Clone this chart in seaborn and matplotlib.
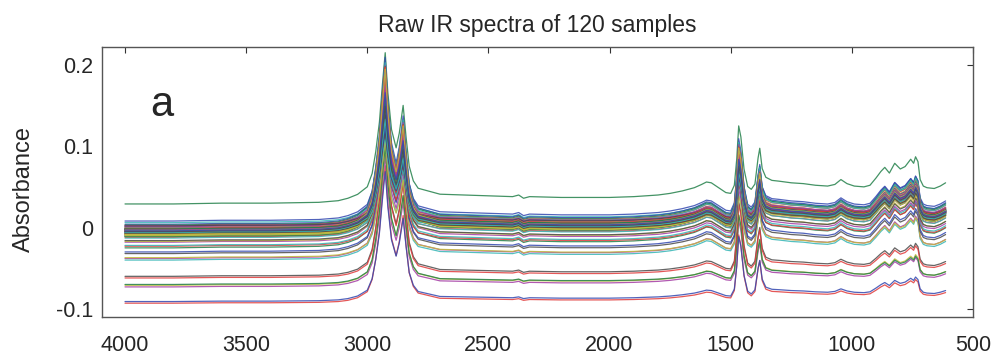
import matplotlib
matplotlib.use("Agg")
import matplotlib.pyplot as plt
import numpy as np
import pandas as pd
import seaborn as sns

# spectra: slow baseline part + sharp band part (relative to 4000 cm-1)
wavenumber = [4000, 3800, 3600, 3400, 3200, 3120, 3080, 3040, 3000, 2980,
              2965, 2950, 2938, 2926, 2915, 2900, 2881, 2868, 2852, 2840,
              2827, 2810, 2790, 2700, 2600, 2500, 2400, 2375, 2355, 2330,
              2200, 2000, 1900, 1800, 1750, 1700, 1650, 1620, 1600, 1580,
              1550, 1520, 1500, 1485, 1475, 1467, 1458, 1445, 1430, 1415,
              1400, 1387, 1380, 1370, 1355, 1330, 1300, 1250, 1200, 1150,
              1100, 1070, 1045, 1020, 990, 950, 925, 900, 880, 864,
              845, 823, 800, 780, 757, 745, 737, 727, 718, 705,
              690, 660, 635, 613]
drift_shape = [0.000, 0.000, 0.001, 0.001, 0.002, 0.004, 0.007, 0.010, 0.013, 0.014,
               0.015, 0.015, 0.015, 0.015, 0.015, 0.015, 0.015, 0.015, 0.015, 0.015,
               0.015, 0.014, 0.013, 0.012, 0.011, 0.010, 0.009, 0.011, 0.007, 0.009,
               0.008, 0.008, 0.009, 0.011, 0.013, 0.016, 0.020, 0.024, 0.027, 0.026,
               0.020, 0.014, 0.013, 0.014, 0.015, 0.015, 0.015, 0.016, 0.017, 0.018,
               0.020, 0.025, 0.028, 0.030, 0.031, 0.029, 0.028, 0.026, 0.025, 0.023,
               0.022, 0.024, 0.030, 0.025, 0.022, 0.021, 0.023, 0.032, 0.040, 0.045,
               0.038, 0.050, 0.043, 0.046, 0.055, 0.050, 0.058, 0.052, 0.030, 0.022,
               0.020, 0.019, 0.022, 0.026]
band_shape = [0.000, 0.000, 0.000, 0.000, 0.000, 0.000, 0.000, 0.002, 0.009, 0.026,
              0.055, 0.095, 0.145, 0.190, 0.135, 0.085, 0.060, 0.080, 0.118, 0.075,
              0.035, 0.016, 0.007, 0.000, 0.000, 0.000, 0.000, 0.000, 0.000, 0.000,
              0.000, 0.000, 0.000, 0.000, 0.000, 0.000, 0.000, 0.000, 0.000, 0.000,
              0.000, 0.000, 0.000, 0.010, 0.045, 0.090, 0.075, 0.030, 0.005, 0.000,
              0.005, 0.035, 0.045, 0.015, 0.002, 0.000, 0.000, 0.000, 0.000, 0.000,
              0.000, 0.000, 0.000, 0.000, 0.000, 0.000, 0.000, 0.000, 0.000, 0.000,
              0.000, 0.000, 0.000, 0.000, 0.000, 0.000, 0.000, 0.000, 0.000, 0.000,
              0.000, 0.000, 0.000, 0.000]

# per-sample baseline at 4000 cm-1, baseline-drift factor and band-intensity factor
baseline = [0.008, 0.029, -0.093, 0.006, -0.073, -0.071, -0.060, -0.091, -0.070, -0.062,
            -0.040, -0.038, -0.037, -0.032, -0.030, -0.025, -0.023, -0.022, -0.018, -0.017,
            -0.016, 0.004, 0.003, 0.002, 0.001, 0.000, -0.001, -0.002, -0.003, -0.004,
            -0.005, -0.006, -0.007, -0.008, -0.009, -0.010, -0.011, -0.012, -0.013, 0.002,
            0.000, -0.002, -0.004, -0.006, -0.008, -0.010, -0.003, -0.005, -0.007, -0.001,
            -0.004, -0.006, -0.002, -0.009, -0.005, -0.003, -0.008, -0.004, -0.006, -0.001,
            0.001, -0.003, -0.005, -0.007, -0.011, -0.004, -0.002, -0.006, -0.008, -0.003,
            -0.005, -0.004, -0.006, -0.007, -0.002, -0.009, -0.004, -0.003, -0.005, -0.006,
            -0.001, -0.004, -0.008, -0.002, -0.005, -0.003, -0.007, -0.004, -0.006, -0.010,
            0.002, -0.003, -0.005, -0.004, -0.002, -0.006, -0.007, -0.003, -0.005, -0.004,
            -0.001, -0.006, -0.004, -0.008, -0.003, -0.005, -0.002, -0.004, -0.006, -0.005,
            -0.003, -0.007, -0.004, -0.002, -0.005, -0.006, -0.003, -0.004, -0.005, -0.004]
drift_gain = [0.95, 1.00, 0.50, 0.90, 0.62, 0.65, 0.70, 0.52, 0.60, 0.68,
              0.88, 0.90, 0.85, 0.90, 0.92, 0.95, 0.90, 0.93, 0.88, 0.95,
              0.90, 1.02, 1.00, 0.98, 1.03, 0.96, 1.00, 0.94, 1.02, 0.98,
              0.92, 1.00, 0.96, 0.90, 1.00, 0.94, 0.98, 0.92, 0.95, 0.85,
              0.90, 0.97, 1.00, 0.88, 0.93, 0.99, 0.82, 0.95, 1.01, 0.78,
              0.90, 0.96, 0.85, 1.00, 0.92, 0.88, 0.97, 0.80, 0.94, 0.86,
              0.91, 0.99, 0.83, 0.95, 1.00, 0.87, 0.93, 0.97, 0.90, 0.84,
              0.96, 0.89, 0.92, 1.00, 0.81, 0.95, 0.90, 0.86, 0.98, 0.93,
              0.88, 0.94, 0.99, 0.82, 0.91, 0.96, 0.87, 0.93, 1.00, 0.95,
              0.80, 0.92, 0.89, 0.97, 0.85, 0.94, 0.98, 0.90, 0.86, 0.95,
              0.92, 0.88, 0.99, 0.84, 0.93, 0.96, 0.90, 0.87, 0.94, 1.00,
              0.91, 0.85, 0.97, 0.89, 0.95, 0.92, 0.88, 0.96, 0.90, 0.93]
band_gain = [0.90, 0.90, 0.85, 0.80, 0.80, 0.85, 0.90, 0.80, 0.85, 0.90,
             0.75, 0.80, 0.70, 0.85, 0.78, 0.88, 0.72, 0.82, 0.90, 0.76,
             0.80, 1.00, 0.95, 0.62, 0.98, 0.70, 0.92, 0.58, 0.85, 0.96,
             0.66, 0.88, 0.74, 0.99, 0.60, 0.83, 0.93, 0.68, 0.79, 0.97,
             0.72, 0.86, 0.64, 0.94, 0.81, 0.57, 0.90, 0.76, 0.98, 0.69,
             0.84, 0.61, 0.92, 0.77, 0.95, 0.66, 0.87, 0.73, 0.99, 0.80,
             0.59, 0.91, 0.75, 0.85, 0.96, 0.63, 0.82, 0.94, 0.70, 0.88,
             0.78, 0.97, 0.65, 0.89, 0.74, 0.93, 0.60, 0.84, 0.99, 0.71,
             0.86, 0.67, 0.95, 0.79, 0.90, 0.62, 0.83, 0.97, 0.73, 0.88,
             0.56, 0.92, 0.76, 0.98, 0.69, 0.85, 0.94, 0.64, 0.81, 0.90,
             0.75, 0.96, 0.68, 0.87, 0.93, 0.61, 0.80, 0.99, 0.72, 0.89,
             0.84, 0.70, 0.95, 0.78, 0.91, 0.66, 0.86, 0.97, 0.74, 0.82]

x_ticks = [4000, 3500, 3000, 2500, 2000, 1500, 1000, 500]
y_ticks = [-0.1, 0, 0.1, 0.2]
y_tick_labels = ["-0.1", "0", "0.1", "0.2"]

# old MATLAB line colour order, slightly muted
matlab_lines = ["#3348b0", "#23804a", "#e03a3a", "#35b5b5", "#a43ca4", "#c4bc3c", "#4a4a4a"]

drift = np.array(drift_shape)
band = np.array(band_shape)
frames = []
for i, (b, dg, bg) in enumerate(zip(baseline, drift_gain, band_gain)):
    frames.append(pd.DataFrame({
        "wavenumber": wavenumber,
        "absorbance": b + dg * drift + bg * band,
        "sample": f"S{i + 1:03d}",
    }))
df = pd.concat(frames, ignore_index=True)

sns.set_style("white")
plt.rcParams["font.family"] = ["Liberation Sans", "DejaVu Sans"]
text_color = "#262626"

fig = plt.figure(figsize=(9.97, 3.61), dpi=100)
ax = fig.add_axes([0.1023, 0.1219, 0.8736, 0.7479])

palette = [matlab_lines[i % len(matlab_lines)] for i in range(len(baseline))]
sns.lineplot(data=df, x="wavenumber", y="absorbance", hue="sample",
             palette=palette, estimator=None, legend=False,
             linewidth=0.9, alpha=0.85, ax=ax)

ax.set_xlim(4095, 500)
ax.set_ylim(-0.11, 0.222)
ax.set_xticks(x_ticks)
ax.set_xticklabels([str(t) for t in x_ticks])
ax.set_yticks(y_ticks)
ax.set_yticklabels(y_tick_labels)
ax.tick_params(axis="x", direction="in", length=4, top=True, labelsize=15.5,
               pad=13, colors="#333333", labelcolor=text_color)
ax.tick_params(axis="y", direction="in", length=4, right=True, labelsize=15.5,
               pad=6.5, colors="#333333", labelcolor=text_color)
for side in ax.spines.values():
    side.set_visible(True)
    side.set_color("#555555")
    side.set_linewidth(1.0)

ax.set_xlabel("")
ax.set_ylabel("Absorbance", fontsize=17, color=text_color)
ax.yaxis.set_label_coords(-0.077, 0.474)
ax.set_title("Raw IR spectra of 120 samples", fontsize=16.5, color=text_color, pad=11)
ax.text(3848, 0.151, "a", fontsize=30, ha="center", va="center", color=text_color)

fig.savefig("out.png", dpi=100)
